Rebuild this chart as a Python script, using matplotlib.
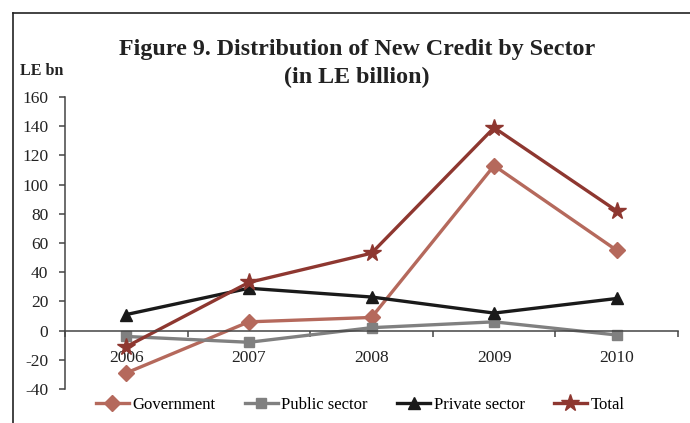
import matplotlib
matplotlib.use("Agg")
import matplotlib.pyplot as plt
from matplotlib.lines import Line2D
import numpy as np

plt.rcParams['font.family'] = ['Liberation Serif', 'DejaVu Serif']

years = ["2006", "2007", "2008", "2009", "2010"]
government = [-29, 6, 9, 113, 55]
public_sector = [-4, -8, 2, 6, -3]
private_sector = [11, 29, 23, 12, 22]
total = [-11, 33, 53, 139, 82]

y_ticks = [-40, -20, 0, 20, 40, 60, 80, 100, 120, 140, 160]

W, H = 690, 423
fig = plt.figure(figsize=(W / 100, H / 100), dpi=100)

# outer frame (left and top edges visible)
fig.add_artist(Line2D([13 / W, 13 / W], [0, 1 - 13 / H], color="#222222", lw=1.2,
                      transform=fig.transFigure))
fig.add_artist(Line2D([13 / W, 1], [1 - 13 / H, 1 - 13 / H], color="#222222", lw=1.2,
                      transform=fig.transFigure))

ax = fig.add_axes([65 / W, 1 - 389 / H, (678 - 65) / W, (389 - 97) / H])

x = np.arange(len(years))
series = [
    ("Government", government, "#B5695C", "D", 8.5),
    ("Public sector", public_sector, "#808080", "s", 6.5),
    ("Private sector", private_sector, "#1A1A1A", "^", 9),
    ("Total", total, "#8E3730", "*", 13),
]
handles = []
for name, vals, col, mk, ms in series:
    h, = ax.plot(x, vals, color=col, lw=2.4, marker=mk, markersize=ms,
                 markerfacecolor=col, markeredgecolor=col, label=name)
    handles.append(h)

ax.set_xlim(-0.5, len(years) - 0.5)
ax.set_ylim(-40, 160)
ax.set_yticks(y_ticks)
ax.set_yticklabels([str(v) for v in y_ticks])

ax.spines['top'].set_visible(False)
ax.spines['right'].set_visible(False)
ax.spines['bottom'].set_position(('data', 0))
for s in ['left', 'bottom']:
    ax.spines[s].set_color("#444444")
    ax.spines[s].set_linewidth(1.1)

ax.set_xticks(x)
ax.set_xticklabels(years)
ax.set_xticks(np.arange(-0.5, len(years)), minor=True)
ax.tick_params(axis='x', which='major', length=0, pad=14, labelsize=12.5, labelcolor="#222222")
ax.tick_params(axis='x', which='minor', direction='out', length=4, width=1.1, color="#444444")
ax.tick_params(axis='y', direction='out', length=4, width=1.1, color="#444444",
               pad=8, labelsize=12.5, labelcolor="#222222")

fig.text(357 / W, 1 - 50 / H, "Figure 9. Distribution of New Credit by Sector",
         ha='center', va='center', fontsize=17.3, fontweight='bold', color="#222222")
fig.text(357 / W, 1 - 77 / H, "(in LE billion)",
         ha='center', va='center', fontsize=17.3, fontweight='bold', color="#222222")
fig.text(20 / W, 1 - 71 / H, "LE bn", ha='left', va='center', fontsize=11.5,
         fontweight='bold', color="#222222")

fig.legend(handles=handles, loc='center', bbox_to_anchor=(360 / W, 1 - 405 / H),
           ncol=4, frameon=False, fontsize=12, handlelength=2.0, handletextpad=0.2,
           columnspacing=1.75, borderaxespad=0)

fig.savefig("out.png", dpi=100)
